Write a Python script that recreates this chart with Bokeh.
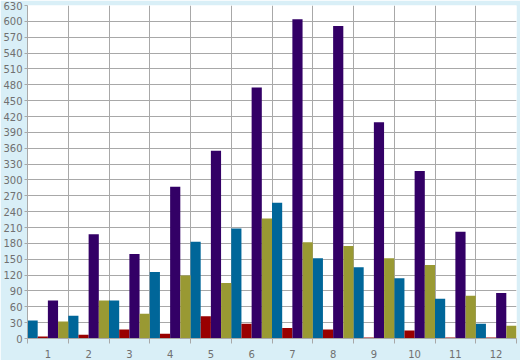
from bokeh.plotting import figure
from bokeh.models import ColumnDataSource, Range1d, FixedTicker
from bokeh.embed import file_html
from bokeh.resources import INLINE

categories = ["1", "2", "3", "4", "5", "6", "7", "8", "9", "10", "11", "12"]
blue_vals = [34, 43, 72, 126, 183, 208, 257, 152, 135, 114, 75, 28]
red_vals = [4, 7, 17, 9, 42, 28, 20, 17, 2, 15, 2, 2]
purple_vals = [72, 197, 160, 287, 355, 475, 604, 591, 409, 317, 202, 86]
olive_vals = [32, 72, 47, 119, 105, 227, 182, 175, 152, 139, 81, 24]

series = [
    (blue_vals, "#006699", -0.375),
    (red_vals, "#990000", -0.125),
    (purple_vals, "#330066", 0.125),
    (olive_vals, "#999933", 0.375),
]

n = len(categories)
centers = list(range(1, n + 1))

p = figure(width=520, height=360, output_backend="svg", toolbar_location=None,
           x_range=Range1d(0.5, n + 0.5), y_range=Range1d(0, 630),
           min_border_left=26, min_border_right=4, min_border_top=5, min_border_bottom=20)
p.background_fill_color = "white"
p.border_fill_color = "#d9eff7"
p.outline_line_color = None

for vals, color, off in series:
    src = ColumnDataSource(dict(x=[c + off for c in centers], top=vals))
    p.vbar(x="x", top="top", bottom=0, width=0.25, source=src,
           fill_color=color, line_color=None)

grid_color = "#a8a8a8"
text_color = "#707070"

# x axis: labels at centers, tick marks at category boundaries
boundaries = [c + 0.5 for c in range(0, n + 1)]
p.xaxis.ticker = FixedTicker(ticks=centers, minor_ticks=boundaries)
p.xaxis.major_label_overrides = {c: lab for c, lab in zip(centers, categories)}
p.xaxis.major_tick_out = 0
p.xaxis.major_tick_in = 0
p.xaxis.minor_tick_out = 5
p.xaxis.minor_tick_in = 0
p.xaxis.minor_tick_line_color = grid_color
p.xaxis.axis_line_color = grid_color
p.xaxis.major_label_standoff = 6
p.xgrid.ticker = FixedTicker(ticks=boundaries)
p.xgrid.grid_line_color = grid_color

# y axis
p.yaxis.ticker = FixedTicker(ticks=list(range(0, 631, 30)))
p.yaxis.major_tick_out = 3
p.yaxis.major_tick_in = 0
p.yaxis.minor_tick_out = 0
p.yaxis.major_tick_line_color = grid_color
p.yaxis.axis_line_color = grid_color
p.yaxis.major_label_standoff = 2
p.ygrid.grid_line_color = grid_color

for ax in (p.xaxis, p.yaxis):
    ax.major_label_text_font = "DejaVu Sans"
    ax.major_label_text_font_size = "10px"
    ax.major_label_text_color = text_color

open("out.html", "w").write(file_html(p, INLINE))
